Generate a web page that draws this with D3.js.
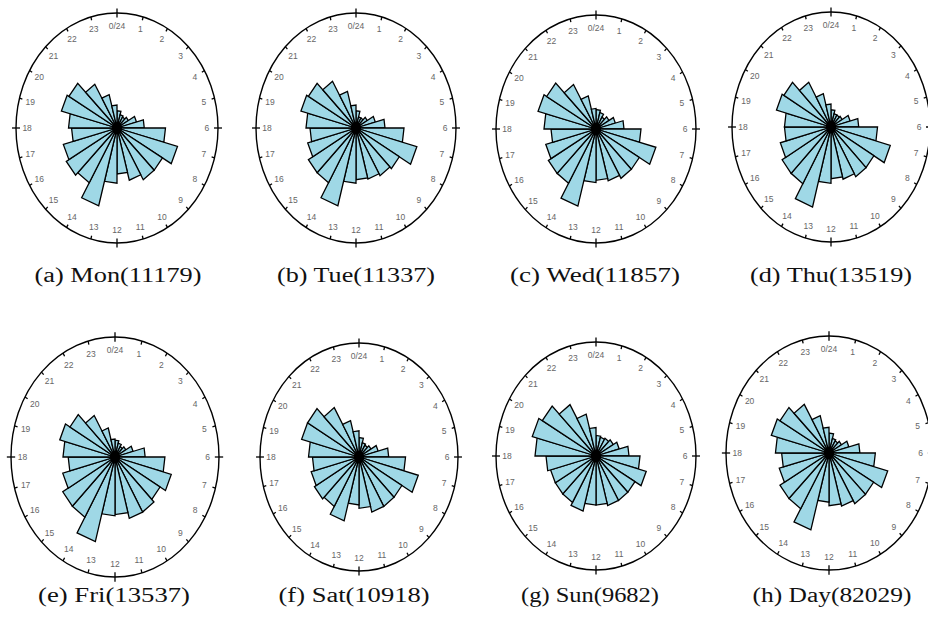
<!DOCTYPE html>
<html><head><meta charset="utf-8">
<script src="https://cdn.jsdelivr.net/npm/d3@7"></script>
<style>body{margin:0;background:#fff}</style>
</head><body><svg id="c" width="928" height="622"></svg>
<script>
// ---- data ----
const hourLabels = ["0/24","1","2","3","4","5","6","7","8","9","10","11","12","13","14","15","16","17","18","19","20","21","22","23"];
const panelLetters = ["a","b","c","d","e","f","g","h"];
const dayNames = ["Mon","Tue","Wed","Thu","Fri","Sat","Sun","Day"];
const dayTotals = [11179,11337,11857,13519,13537,10918,9682,82029];
// bar length for each hour (0..23), in % of the outer ring radius
const mon = [15,12,11,13,20,27,48,62,52,52,47,40,48,70,55,58,55,45,48,57,55,44,30,20];
const tue = [15,10,10,13,20,29,48,63,50,48,46,45,48,70,55,55,50,46,50,57,55,47,33,20];
const wed = [17,15,12,15,20,28,45,62,50,50,47,45,47,70,55,55,52,45,52,60,57,45,30,18];
const thu = [15,12,12,13,20,28,47,62,50,50,47,45,49,72,57,57,53,47,47,57,55,45,30,20];
const fri = [14,12,10,12,18,29,48,56,50,53,53,48,49,73,58,58,52,45,50,55,50,40,25,15];
const sat = [17,13,12,14,20,30,47,62,50,50,50,45,42,58,50,52,50,47,51,60,60,50,33,23];
const sun = [18,17,18,20,24,33,44,52,45,45,45,43,43,50,47,47,47,50,61,66,62,52,38,25];
const day = [17,13,12,14,20,30,45,59,50,50,47,45,42,68,55,55,50,46,52,58,55,48,33,22];
const series = [mon,tue,wed,thu,fri,sat,sun,day];

// ---- layout ----
const panels = [
  {cx:117,cy:128,rx:101,ry:115,tx:118,ty:282,tw:167},
  {cx:356,cy:128,rx:100,ry:115,tx:356,ty:282,tw:158},
  {cx:596,cy:129,rx:100,ry:114,tx:595,ty:282,tw:170},
  {cx:831,cy:127,rx:99,ry:115,tx:831,ty:282,tw:162},
  {cx:115,cy:457,rx:104,ry:120,tx:114,ty:602,tw:152},
  {cx:359,cy:457,rx:99,ry:114,tx:354,ty:602,tw:151},
  {cx:596,cy:456,rx:100,ry:114,tx:590,ty:602,tw:138},
  {cx:829,cy:453,rx:103,ry:117,tx:832,ty:602,tw:159}
];

const svg = d3.select("#c");
const ang = d3.scaleLinear().domain([0,24]).range([0,2*Math.PI]);

panels.forEach((p,i)=>{
  const g = svg.append("g").attr("transform",`translate(${p.cx},${p.cy})`);
  const sx = d3.scaleLinear().domain([0,100]).range([0,p.rx]);
  const sy = d3.scaleLinear().domain([0,100]).range([0,p.ry]);
  const pt = (h,v)=>[sx(v)*Math.sin(ang(h)), -sy(v)*Math.cos(ang(h))];

  // outer ellipse
  g.append("ellipse").attr("rx",p.rx).attr("ry",p.ry)
    .attr("fill","none").attr("stroke","#000").attr("stroke-width",1.4);

  // hour ticks
  d3.range(24).forEach(h=>{
    const major = h%6===0;
    const a = pt(h, major?104:100), b = pt(h, major?96:97);
    g.append("line").attr("x1",a[0]).attr("y1",a[1]).attr("x2",b[0]).attr("y2",b[1])
      .attr("stroke","#000").attr("stroke-width",1.3);
  });

  // hour labels
  g.selectAll("text.hl").data(hourLabels).join("text").attr("class","hl")
    .attr("x",(d,h)=>pt(h,89)[0]).attr("y",(d,h)=>pt(h,89)[1])
    .attr("text-anchor","middle").attr("dominant-baseline","central")
    .attr("font-family","Liberation Sans, Arial, sans-serif").attr("font-size",8.5)
    .attr("fill","#666").text(d=>d);

  // rose bars (triangles, MATLAB rose style)
  const line = d3.line();
  g.selectAll("path.bar").data(series[i]).join("path").attr("class","bar")
    .attr("d",(v,h)=>line([[0,0],pt(h,v),pt(h+1,v)])+"Z")
    .attr("fill","#9fd8e6").attr("stroke","#000").attr("stroke-width",1.3)
    .attr("stroke-linejoin","miter");
  g.append("ellipse").attr("rx",5).attr("ry",5.5).attr("fill","#000");

  // caption
  svg.append("text").attr("x",p.tx).attr("y",p.ty).attr("text-anchor","middle")
    .attr("font-family","Liberation Serif, Times New Roman, serif").attr("font-size",20)
    .attr("textLength",p.tw).attr("lengthAdjust","spacingAndGlyphs")
    .attr("fill","#111")
    .text(`(${panelLetters[i]}) ${dayNames[i]}(${dayTotals[i]})`);
});
</script>
</body></html>
